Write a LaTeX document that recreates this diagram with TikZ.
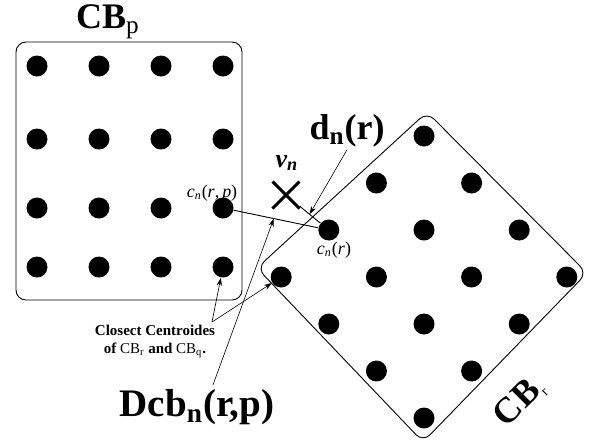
\documentclass[tikz,border=0pt]{standalone}
\usepackage{fontspec}
\setmainfont{Liberation Serif}
\usetikzlibrary{arrows.meta, calc, shapes.misc}

\begin{document}
\begin{tikzpicture}[x=0.5pt, y=-0.5pt, line width=0.45pt,
  dot/.style={circle, fill=black, inner sep=0pt, minimum size=10.5pt},
  ptr/.style={-{Stealth[length=4pt, width=2.6pt]}, line width=0.3pt},
  big/.style={font=\fontsize{18}{20}\selectfont\bfseries, inner sep=0pt},
  note/.style={font=\fontsize{9}{10}\selectfont, inner sep=1pt}]
  \useasboundingbox (0,0) rectangle (589,447);
  % codebook p
  \node[draw, rounded corners=5pt, minimum width=113pt, minimum height=129pt] (cbp) at (129,171) {};
  \node[big] (cbplab) at (108,22) {CB\textsubscript{\mdseries p}};
  \foreach \x [count=\i] in {37,99,161,223}
    \foreach \y [count=\j] in {66,139,208,267}
      \node[dot] (p\i\j) at (\x,\y) {};
  % codebook r, turned
  \coordinate (rt) at (427,112);
  \coordinate (rr) at (587,273);
  \coordinate (rb) at (423,442);
  \coordinate (rl) at (257,268);
  \draw[rounded corners=5pt] ($(rt)!0.5!(rr)$) -- (rr) -- (rb) -- (rl) -- (rt) -- cycle;
  \foreach \i in {0,...,3}
    \foreach \j in {0,...,3}
      \node[dot] (r\i\j) at ({424+47.6*(\i+\j-3)}, {277+47*(\i-\j)}) {};
  \node[big, rotate=45] (cbrlab) at (520,402) {CB\textsubscript{\mdseries\scriptsize r}};
  % vector v_n
  \node[cross out, draw, line width=1.5pt, minimum size=12pt] (vx) at (286,195) {};
  \node[font=\fontsize{13}{14}\selectfont\bfseries\itshape, inner sep=1pt] (vn) at (287,163) {v\textsubscript{n}};
  \node[note] (cnrp) at (212,193) {\textit{c}\textsubscript{\textit{n}}(\textit{r},\,\textit{p})};
  \node[note] (cnr) at (334,250) {\textit{c}\textsubscript{\textit{n}}(\textit{r})};
  \draw (p43) -- (r01);
  \draw (vx) -- (r01);
  % labels with pointers
  \node[font=\fontsize{18}{20}\selectfont\bfseries, inner sep=1pt] (dn) at (347,131) {d\textsubscript{n}(r)};
  \draw[ptr] (dn.south) -- ($(vx)!0.55!(r01)$);
  \node[font=\fontsize{19.5}{22}\selectfont\bfseries, inner sep=2pt] (dcb) at (197,407) {Dcb\textsubscript{n}(r,p)};
  \draw[ptr] ([xshift=8pt]dcb.north) -- ($(p43)!0.48!(r01)$);
  \node[font=\fontsize{7.5}{9}\selectfont\bfseries, align=center] (cc) at (155,341)
    {Closect Centroides\\of {\mdseries CB\textsubscript{r}} and {\mdseries CB\textsubscript{q}}.};
  \coordinate (fork) at (212,322);
  \draw[ptr] (fork) -- (p44);
  \draw[ptr] (fork) -- (r00);
\end{tikzpicture}
\end{document}
